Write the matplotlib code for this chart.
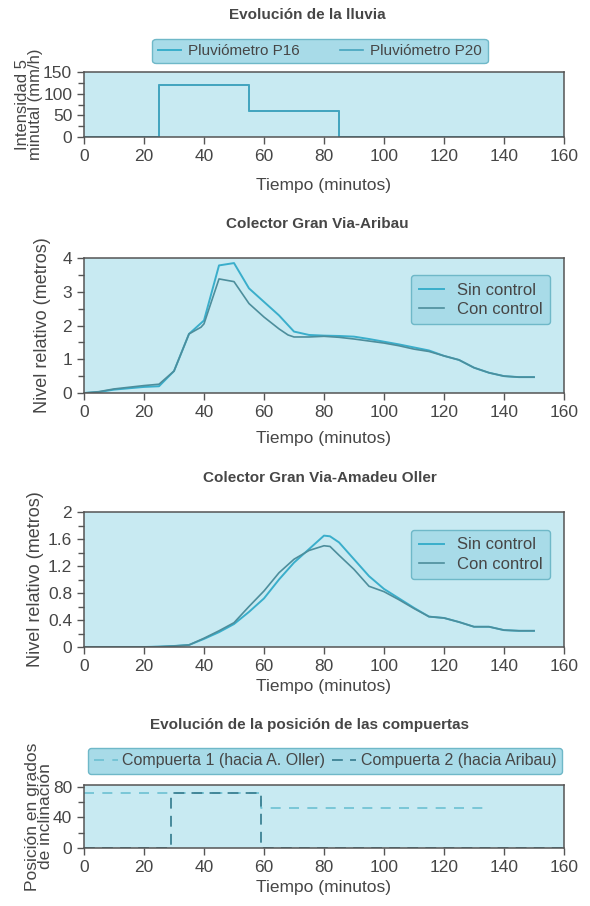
import matplotlib
matplotlib.use("Agg")
import matplotlib.pyplot as plt
from matplotlib.ticker import MultipleLocator

plt.rcParams['font.family'] = ['Liberation Sans', 'DejaVu Sans']

# ---------------- data ----------------
rain_t = [0, 25, 55, 85, 160]
rain_p16 = [0, 120, 60, 0, 0]
rain_p20 = [0, 120, 60, 0, 0]

ari_t_sin = [0, 5, 10, 15, 20, 25, 30, 35, 40, 45, 50, 55, 60, 65, 70, 75, 80, 85, 90, 95,
             100, 105, 110, 115, 120, 125, 130, 135, 140, 145, 150]
ari_sin = [0, 0.03, 0.1, 0.14, 0.18, 0.2, 0.65, 1.75, 2.15, 3.78, 3.85, 3.1, 2.7, 2.3, 1.82,
           1.72, 1.7, 1.69, 1.67, 1.6, 1.52, 1.44, 1.35, 1.26, 1.1, 0.98, 0.75, 0.6, 0.5, 0.47, 0.47]
ari_t_con = [0, 5, 10, 15, 20, 25, 30, 35, 39, 40, 45, 50, 55, 60, 65, 68, 70, 75, 80, 85, 90,
             95, 100, 105, 110, 115, 120, 125, 130, 135, 140, 145, 150]
ari_con = [0, 0.04, 0.12, 0.17, 0.22, 0.26, 0.65, 1.75, 1.95, 2.05, 3.38, 3.3, 2.65, 2.25, 1.9,
           1.72, 1.66, 1.66, 1.68, 1.65, 1.6, 1.54, 1.48, 1.4, 1.3, 1.23, 1.1, 0.98, 0.75, 0.6, 0.5, 0.47, 0.47]

ol_t = [0, 10, 20, 25, 30, 35, 40, 45, 50, 55, 60, 65, 70, 75, 80, 82, 85, 90, 95, 100, 105,
        110, 115, 120, 125, 130, 135, 140, 145, 150]
ol_sin = [0, 0, 0, 0.005, 0.015, 0.03, 0.12, 0.22, 0.34, 0.52, 0.72, 1.0, 1.25, 1.45, 1.65,
          1.64, 1.55, 1.3, 1.05, 0.86, 0.72, 0.58, 0.45, 0.43, 0.37, 0.3, 0.3, 0.25, 0.24, 0.24]
ol_con = [0, 0, 0, 0.005, 0.015, 0.03, 0.13, 0.24, 0.36, 0.6, 0.83, 1.1, 1.3, 1.43, 1.5,
          1.49, 1.36, 1.15, 0.9, 0.82, 0.7, 0.57, 0.45, 0.43, 0.37, 0.3, 0.3, 0.25, 0.24, 0.24]

gate1_t = [0, 59, 133]
gate1 = [72, 52, 52]
gate2_t = [0, 29, 59, 160]
gate2 = [0, 72, 0, 0]

# ---------------- style ----------------
BG = '#c8eaf2'
LEG_BG = '#a8dbe8'
LEG_EDGE = '#6fb8c8'
C_SIN = '#3aaecb'
C_CON = '#4d8e9c'
TXT = '#464646'
SP = '#555555'

fig = plt.figure(figsize=(5.9, 9.06), dpi=100)
W, H = 590.0, 906.0


def make_ax(top, bottom, xpad):
    ax = fig.add_axes([84 / W, 1 - bottom / H, 480 / W, (bottom - top) / H])
    ax.set_facecolor(BG)
    for s in ax.spines.values():
        s.set_color(SP)
        s.set_linewidth(1.1)
    ax.set_xlim(0, 160)
    ax.xaxis.set_major_locator(MultipleLocator(20))
    ax.tick_params(axis='both', which='both', direction='out', colors=SP, labelcolor=TXT,
                   labelsize=12.5)
    ax.tick_params(which='major', length=5, width=1)
    ax.tick_params(which='minor', length=4, width=1)
    ax.set_xlabel('Tiempo (minutos)', fontsize=12.5, color=TXT, labelpad=xpad)
    return ax


def style_leg(leg):
    fr = leg.get_frame()
    fr.set_facecolor(LEG_BG)
    fr.set_edgecolor(LEG_EDGE)
    fr.set_alpha(1)
    fr.set_linewidth(1.0)
    for t in leg.get_texts():
        t.set_color(TXT)


# Panel 1
fig.text(307 / W, 1 - 15 / H, 'Evolución de la lluvia', ha='center', va='center',
         fontsize=11, fontweight='bold', color=TXT)
ax1 = make_ax(72, 137, 10)
ax1.plot(rain_t, rain_p16, drawstyle='steps-post', color=C_SIN, lw=1.4, label='Pluviómetro P16')
ax1.plot(rain_t, rain_p20, drawstyle='steps-post', color='#46a4bd', lw=1.2, label='Pluviómetro P20')
ax1.set_ylim(0, 150)
ax1.yaxis.set_major_locator(MultipleLocator(50))
ax1.yaxis.set_minor_locator(MultipleLocator(25))
ax1.set_ylabel('Intensidad 5\nminutal (mm/h)', fontsize=12, color=TXT, labelpad=0,
               linespacing=0.85)
leg1 = ax1.legend(loc='center', bbox_to_anchor=(320 / W, 1 - 51 / H), bbox_transform=fig.transFigure,
                  ncol=2, fontsize=11, frameon=True, fancybox=True, handlelength=1.5,
                  columnspacing=2.6, borderpad=0.35, handletextpad=0.5)
style_leg(leg1)

# Panel 2
fig.text(317 / W, 1 - 224 / H, 'Colector Gran Via-Aribau', ha='center',
         va='center', fontsize=11, fontweight='bold', color=TXT)
ax2 = make_ax(258, 393, 8)
ax2.plot(ari_t_sin, ari_sin, color=C_SIN, lw=1.4, label='Sin control')
ax2.plot(ari_t_con, ari_con, color=C_CON, lw=1.2, label='Con control')
ax2.set_ylim(0, 4)
ax2.yaxis.set_major_locator(MultipleLocator(1))
ax2.yaxis.set_minor_locator(MultipleLocator(0.5))
ax2.set_ylabel('Nivel relativo (metros)', fontsize=13, color=TXT, labelpad=8)
leg2 = ax2.legend(loc='upper right', bbox_to_anchor=(0.971, 0.874), borderaxespad=0,
                  fontsize=12, fancybox=True, handlelength=1.5, borderpad=0.45,
                  handletextpad=0.8, labelspacing=0.25)
style_leg(leg2)

# Panel 3
fig.text(320 / W, 1 - 478 / H, 'Colector Gran Via-Amadeu Oller', ha='center', va='center',
         fontsize=11, fontweight='bold', color=TXT)
ax3 = make_ax(512, 647, 4)
ax3.plot(ol_t, ol_sin, color=C_SIN, lw=1.4, label='Sin control')
ax3.plot(ol_t, ol_con, color=C_CON, lw=1.2, label='Con control')
ax3.set_ylim(0, 2)
ax3.set_yticks([0, 0.4, 0.8, 1.2, 1.6, 2.0])
ax3.set_yticklabels(['0', '0.4', '0.8', '1.2', '1.6', '2'])
ax3.yaxis.set_minor_locator(MultipleLocator(0.2))
ax3.set_ylabel('Nivel relativo (metros)', fontsize=13, color=TXT, labelpad=3)
leg3 = ax3.legend(loc='upper right', bbox_to_anchor=(0.971, 0.867), borderaxespad=0,
                  fontsize=12, fancybox=True, handlelength=1.5, borderpad=0.45,
                  handletextpad=0.8, labelspacing=0.25)
style_leg(leg3)

# Panel 4
fig.text(310 / W, 1 - 725 / H, 'Evolución de la posición de las compuertas', ha='center',
         va='center', fontsize=11, fontweight='bold', color=TXT)
ax4 = make_ax(785, 848, 4)
ax4.plot(gate1_t, gate1, drawstyle='steps-post', color='#6cc0d2', lw=1.2, ls=(0, (6, 5)),
         label='Compuerta 1 (hacia A. Oller)')
ax4.plot(gate2_t, gate2, drawstyle='steps-post', color='#3d8294', lw=1.3, ls=(0, (6, 4)),
         label='Compuerta 2 (hacia Aribau)')
ax4.set_ylim(0, 82)
ax4.set_yticks([0, 40, 80])
ax4.yaxis.set_minor_locator(MultipleLocator(20))
ax4.set_ylabel('Posición en grados\nde inclinación', fontsize=12.5, color=TXT, labelpad=0,
               linespacing=0.85)
leg4 = ax4.legend(loc='center', bbox_to_anchor=(325 / W, 1 - 761 / H), bbox_transform=fig.transFigure,
                  ncol=2, fontsize=11.5, fancybox=True, handlelength=1.5, columnspacing=0.4,
                  borderpad=0.35, handletextpad=0.3)
style_leg(leg4)

fig.savefig('out.png', dpi=100, facecolor='white')
